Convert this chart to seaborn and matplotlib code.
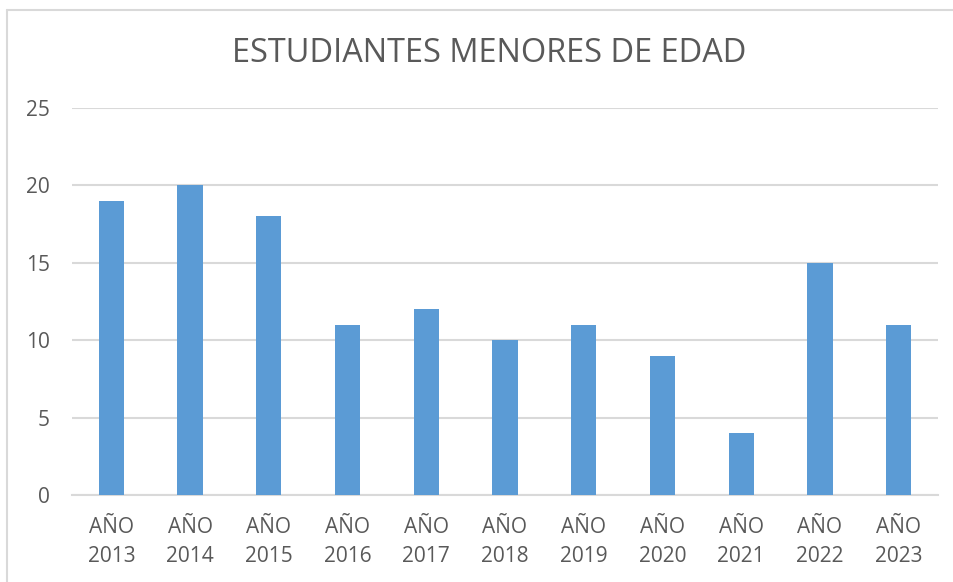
import matplotlib
matplotlib.use("Agg")
import matplotlib.pyplot as plt
import seaborn as sns
import pandas as pd
from matplotlib.lines import Line2D

categories = ["AÑO\n2013", "AÑO\n2014", "AÑO\n2015", "AÑO\n2016", "AÑO\n2017", "AÑO\n2018",
              "AÑO\n2019", "AÑO\n2020", "AÑO\n2021", "AÑO\n2022", "AÑO\n2023"]
values = [19, 20, 18, 11, 12, 10, 11, 9, 4, 15, 11]
title = "ESTUDIANTES MENORES DE EDAD"
yticks = [0, 5, 10, 15, 20, 25]

sns.set_theme(style="white")
plt.rcParams['font.family'] = ['Open Sans', 'DejaVu Sans']

df = pd.DataFrame({"cat": categories, "val": values})

fig = plt.figure(figsize=(9.54, 5.82), dpi=100)
ax = fig.add_axes([72/954, 1-495/582, (938-72)/954, (495-108)/582])
sns.barplot(data=df, x="cat", y="val", color="#5B9BD5", width=0.32, saturation=1, ax=ax,
            edgecolor="none", zorder=3)

ax.set_ylim(0, 25)
ax.set_yticks(yticks)
ax.set_xlim(-0.5, len(categories) - 0.5)
ax.set_xlabel("")
ax.set_ylabel("")
for s in ["top", "right", "left"]:
    ax.spines[s].set_visible(False)
ax.spines["bottom"].set_color("#D9D9D9")
ax.spines["bottom"].set_linewidth(1.5)
ax.grid(axis="y", color="#D9D9D9", linewidth=1.5, zorder=0)
ax.set_axisbelow(True)
ax.tick_params(axis="both", length=0, colors="#595959", labelsize=15)
ax.tick_params(axis="x", pad=16)
ax.tick_params(axis="y", pad=16)
for lab in ax.get_xticklabels():
    lab.set_linespacing(1.5)
for lab in ax.get_yticklabels():
    lab.set_horizontalalignment("right")

fig.text(489/954, 1-54/582, title, ha="center", va="center", fontsize=23.4, color="#595959")

fig.add_artist(Line2D([7/954, 1], [1-10/582, 1-10/582], transform=fig.transFigure, color="#D9D9D9", linewidth=1.5))
fig.add_artist(Line2D([7/954, 7/954], [0, 1-10/582], transform=fig.transFigure, color="#D9D9D9", linewidth=1.5))

fig.savefig("out.png", dpi=100)
